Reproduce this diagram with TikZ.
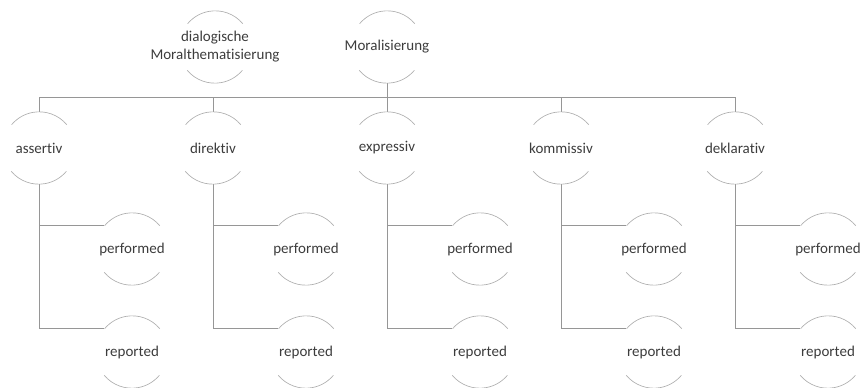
\documentclass[tikz,border=0pt]{standalone}
\usepackage{fontspec}
\setmainfont[Ligatures={NoCommon}]{Carlito}
\definecolor{linie}{RGB}{150,150,150}
\definecolor{bogen}{RGB}{175,175,175}
\definecolor{schrift}{RGB}{60,60,60}
\tikzset{
  kreis/.style={circle,minimum size=54pt,inner sep=0pt,draw=none},
  stufe/.style={kreis,label={[text=schrift,font=\fontsize{11.25}{13.5}\selectfont,align=center]center:#1}},
  verbinder/.style={draw=linie,line width=0.5pt},
  halbbogen/.style={draw=bogen,line width=0.5pt}
}
\begin{document}
\begin{tikzpicture}[x=0.75pt,y=0.75pt,yscale=-1,xscale=1]
  \useasboundingbox (0,0) rectangle (862,388);
  % oberste Ebene
  \node[stufe={dialogische\\Moralthematisierung}] (dial) at (215,47) {};
  \node[stufe={Moralisierung}] (moral) at (387,47) {};
  % Sprechakttypen
  \node[stufe={assertiv}] (assertiv) at (39,148) {};
  \node[stufe={direktiv}] (direktiv) at (213,148) {};
  \node[stufe={expressiv}] (expressiv) at (387,148) {};
  \node[stufe={kommissiv}] (kommissiv) at (561,148) {};
  \node[stufe={deklarativ}] (deklarativ) at (735,148) {};
  \coordinate (bus) at (387,97);
  % performed / reported
  \foreach \k/\x in {assertiv/39,direktiv/213,expressiv/387,kommissiv/561,deklarativ/735} {
    \node[stufe={performed}] (\k-perf) at (\x+93,249) {};
    \node[stufe={reported}] (\k-rep) at (\x+93,352) {};
    \draw[verbinder] (\k.north) |- (bus);
    \draw[verbinder] (\k.south) |- (\k-perf.140);
    \draw[verbinder] (\k.south) |- (\k-rep.140);
  }
  \draw[verbinder] (moral.south) -- (expressiv.north);
  % Boegen oben und unten (y gespiegelt, daher negative Winkel)
  \foreach \n in {dial,moral,assertiv,direktiv,expressiv,kommissiv,deklarativ,
                  assertiv-perf,assertiv-rep,direktiv-perf,direktiv-rep,expressiv-perf,expressiv-rep,
                  kommissiv-perf,kommissiv-rep,deklarativ-perf,deklarativ-rep} {
    \draw[halbbogen] (\n.40) arc[start angle=-40,end angle=-140,radius=27pt];
    \draw[halbbogen] (\n.220) arc[start angle=-220,end angle=-320,radius=27pt];
  }
\end{tikzpicture}
\end{document}
